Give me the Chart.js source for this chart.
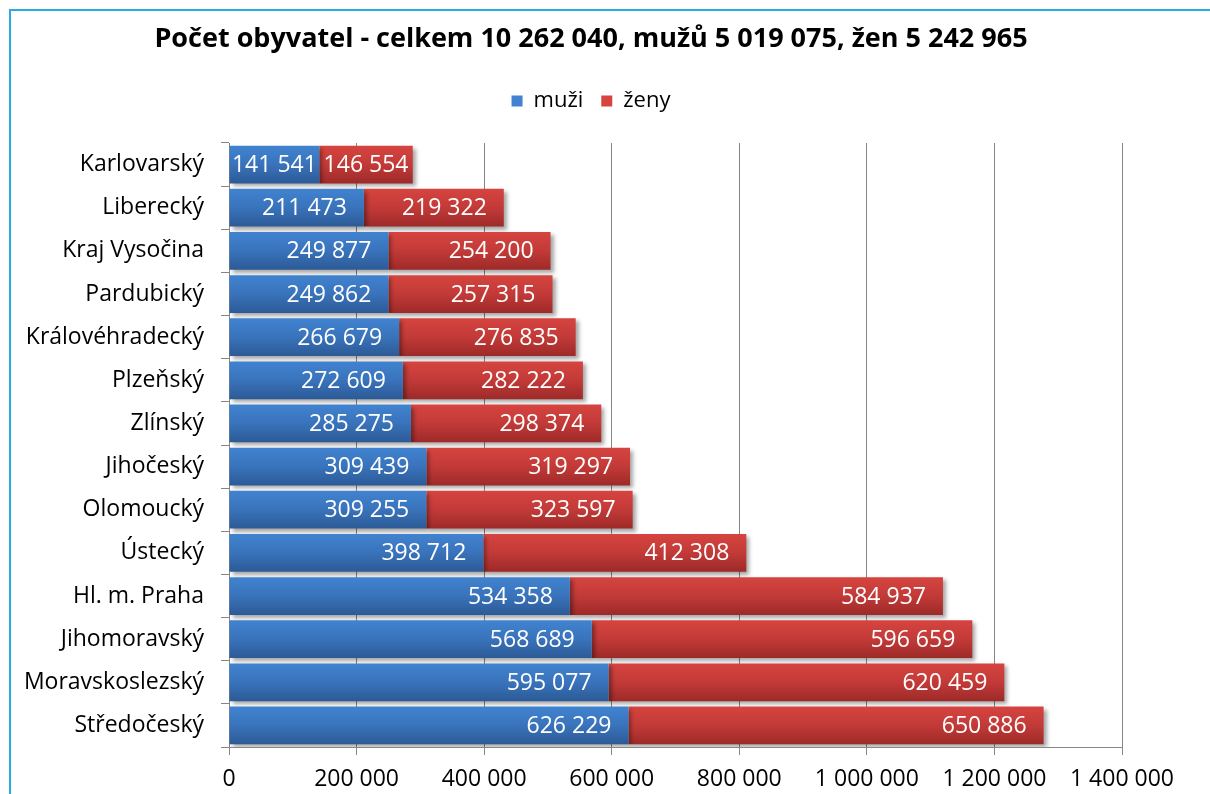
<!DOCTYPE html>
<html>
<head>
<meta charset="utf-8">
<script src="https://cdn.jsdelivr.net/npm/chart.js@4"></script>
<style>
body{margin:0;background:#fff;overflow:hidden}
#wrap{position:absolute;left:0;top:0;width:1210px;height:794px}
#frame{position:absolute;left:9px;top:9px;width:1300px;height:900px;border-left:2px solid #2aabe2;border-top:2px solid #2aabe2;pointer-events:none}
</style>
</head>
<body>
<div id="wrap"><canvas id="pop"></canvas></div>
<div id="frame"></div>
<script>
const categories=["Karlovarský","Liberecký","Kraj Vysočina","Pardubický","Královéhradecký","Plzeňský","Zlínský","Jihočeský","Olomoucký","Ústecký","Hl. m. Praha","Jihomoravský","Moravskoslezský","Středočeský"]
const muzi=[141541,211473,249877,249862,266679,272609,285275,309439,309255,398712,534358,568689,595077,626229]
const zeny=[146554,219322,254200,257315,276835,282222,298374,319297,323597,412308,584937,596659,620459,650886]
const xTicks=[0,200000,400000,600000,800000,1000000,1200000,1400000]

const fmt=v=>String(v).replace(/\B(?=(\d{3})+(?!\d))/g," ")
const font="'Open Sans'"

// vertical gradient per bar, computed from the category scale
function grad(stops,flat){
    return c=>{
        if(c.type!=="data") return flat
        const ch=c.chart, y=ch.scales.y
        if(!y || !ch.chartArea) return flat
        const mid=y.getPixelForValue(c.dataIndex)
        const half=(ch.chartArea.bottom-ch.chartArea.top)/categories.length*0.875/2
        const g=ch.ctx.createLinearGradient(0,mid-half,0,mid+half)
        stops.forEach((s,i)=>g.addColorStop(i/(stops.length-1),s))
        return g
    }
}

const barExtras={
    id:"barExtras",
    beforeDatasetsDraw(chart){
        const c=chart.ctx
        c.save()
        c.shadowColor="rgba(0,0,0,0.35)"
        c.shadowBlur=4
        c.shadowOffsetX=3
        c.shadowOffsetY=3
    },
    afterDatasetsDraw(chart){
        const c=chart.ctx
        c.restore()
        c.save()
        c.font="23px "+font
        c.fillStyle="#fff"
        c.textBaseline="middle"
        chart.data.datasets.forEach((ds,di)=>{
            chart.getDatasetMeta(di).data.forEach((el,i)=>{
                const txt=fmt(ds.data[i])
                const w=c.measureText(txt).width
                const start=Math.min(el.base,el.x), end=Math.max(el.base,el.x)
                let right=end-17
                if(right-w<start+2){
                    c.textAlign="center"
                    c.fillText(txt,(start+end)/2,el.y+1)
                }else{
                    c.textAlign="right"
                    c.fillText(txt,right,el.y+1)
                }
            })
        })
        c.restore()
    }
}

new Chart(document.getElementById("pop"),{
    type:"bar",
    data:{
        labels:categories,
        datasets:[
            {
                label:"muži",
                data:muzi,
                backgroundColor:grad(["#4183d0","#3973bb","#2c5a96"],"#3a76c0"),
                borderWidth:0,
            },
            {
                label:"ženy",
                data:zeny,
                backgroundColor:grad(["#d6443f","#c23a38","#9d2a28"],"#c63b38"),
                borderWidth:0,
            },
        ],
    },
    options:{
        indexAxis:"y",
        responsive:true,
        maintainAspectRatio:false,
        animation:false,
        categoryPercentage:1,
        barPercentage:0.875,
        layout:{padding:{left:0,right:28,top:0,bottom:0}},
        plugins:{
            title:{
                display:true,
                text:"Počet obyvatel - celkem 10 262 040, mužů 5 019 075, žen 5 242 965",
                color:"#000",
                font:{family:font,size:27,weight:"bold",lineHeight:1.2},
                padding:{top:22.8,bottom:16.8},
            },
            subtitle:{
                display:true,
                text:" ",
                weight:500,
                font:{size:10,lineHeight:1.2},
                padding:{top:4,bottom:5},
            },
            legend:{
                position:"top",
                labels:{
                    color:"#000",
                    font:{family:font,size:22},
                    boxWidth:11,
                    boxHeight:11,
                    padding:18,
                },
            },
            tooltip:{enabled:false},
        },
        scales:{
            x:{
                stacked:true,
                min:0,
                max:1400000,
                afterBuildTicks:s=>{s.ticks=xTicks.map(v=>({value:v}))},
                afterFit:s=>{s.height=47},
                border:{color:"#868686"},
                grid:{color:"#868686",tickLength:8},
                ticks:{
                    color:"#000",
                    font:{family:font,size:23},
                    padding:11,
                    maxRotation:0,
                    callback:v=>fmt(v),
                },
            },
            y:{
                stacked:true,
                afterFit:s=>{s.width=229},
                border:{color:"#868686"},
                grid:{color:"#868686",tickLength:8,drawOnChartArea:false,offset:true},
                ticks:{
                    color:"#000",
                    font:{family:font,size:23},
                    padding:17,
                },
            },
            // empty right-hand spacer so the plot ends at 1 400 000 while the title stays centred
            spacer:{
                type:"linear",
                axis:"y",
                position:"right",
                afterFit:s=>{s.width=60},
                border:{display:false},
                grid:{display:false},
                ticks:{display:false},
            },
        },
    },
    plugins:[barExtras],
})
</script>
</body>
</html>
